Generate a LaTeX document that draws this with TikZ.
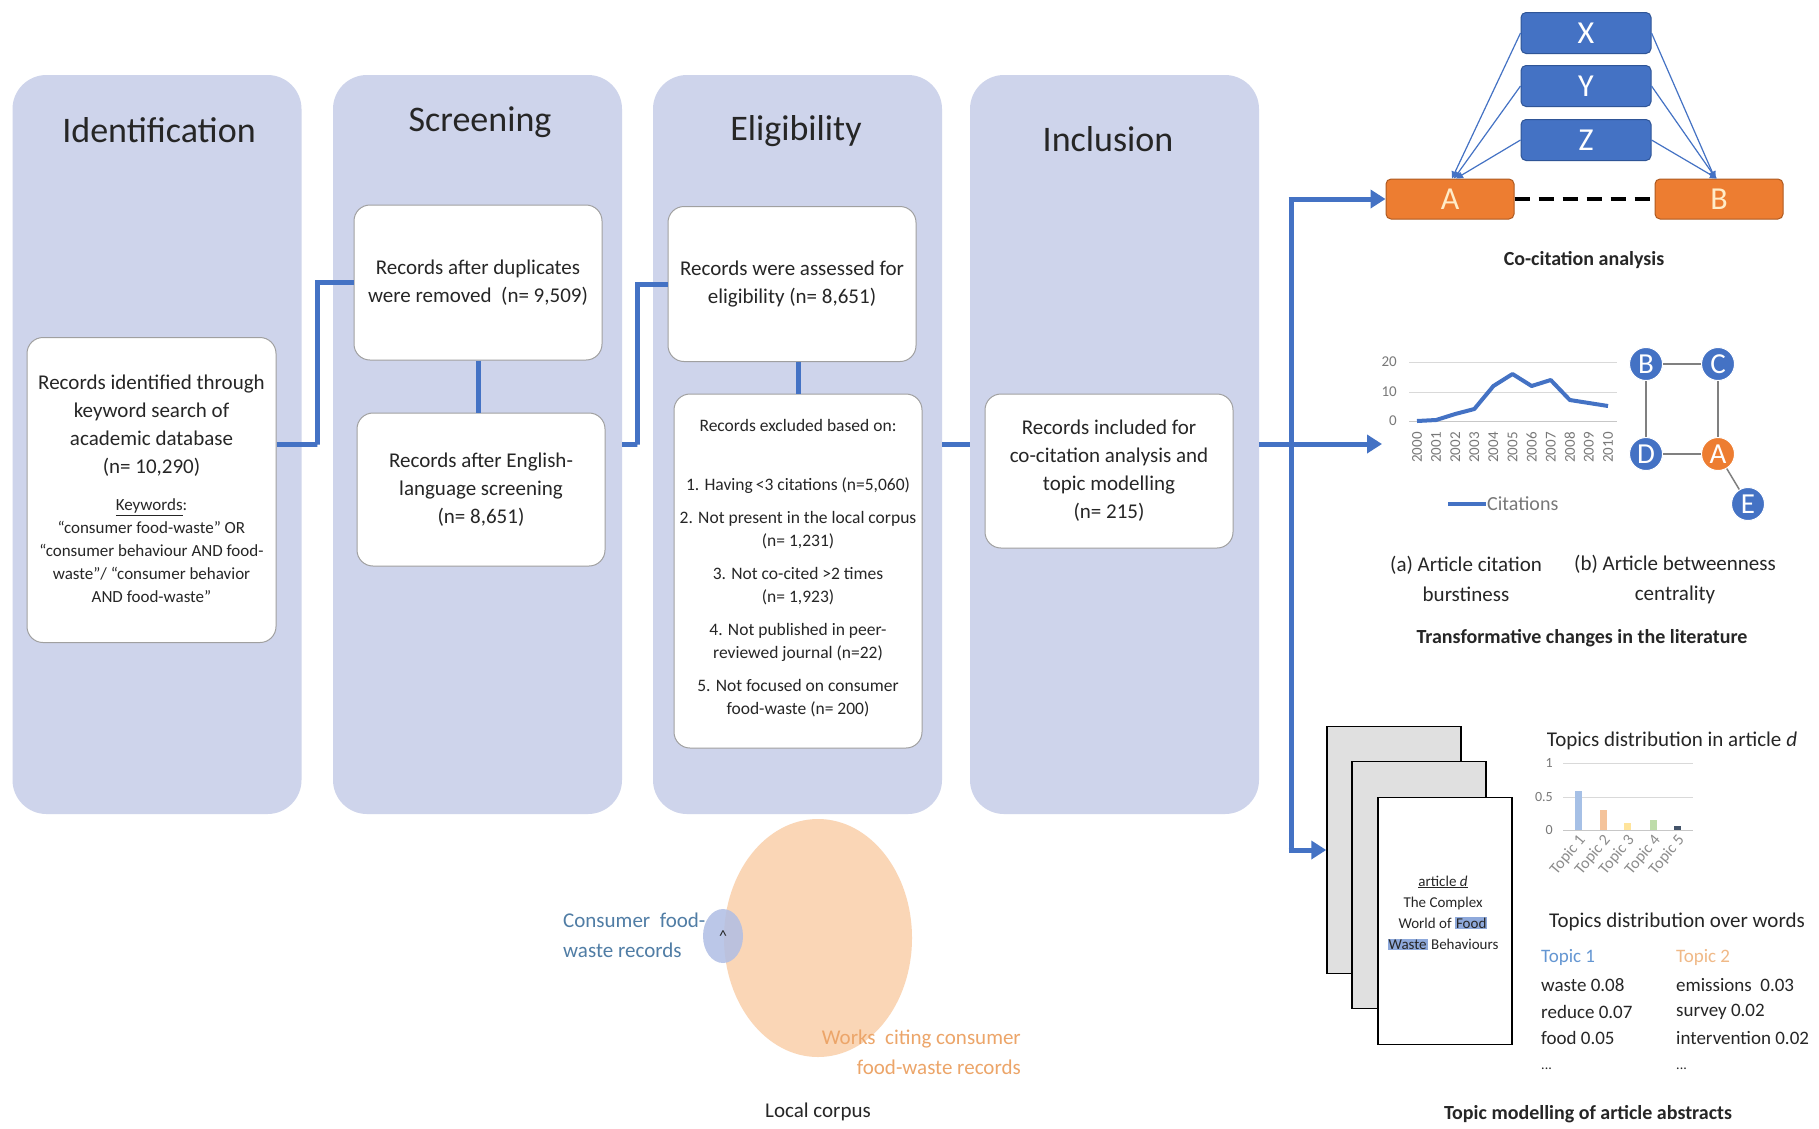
\documentclass[tikz,border=0pt]{standalone}
\usepackage{fontspec}
\setmainfont{Carlito}
\usetikzlibrary{arrows.meta,calc,shapes.geometric}
\definecolor{panelc}{RGB}{206,212,235}
\definecolor{boxb}{RGB}{160,160,160}
\definecolor{bluec}{RGB}{68,114,196}
\definecolor{blued}{RGB}{47,85,151}
\definecolor{orangec}{RGB}{237,125,49}
\definecolor{oranged}{RGB}{174,90,33}
\definecolor{lettc}{RGB}{255,236,200}
\definecolor{txtc}{RGB}{38,38,38}
\definecolor{grayt}{RGB}{120,120,120}
\definecolor{grayl}{RGB}{140,140,140}
\definecolor{gridc}{RGB}{217,217,217}
\definecolor{edgec}{RGB}{128,128,128}
\definecolor{peach}{RGB}{250,214,182}
\definecolor{venblue}{RGB}{176,190,228}
\definecolor{cfwt}{RGB}{80,125,165}
\definecolor{wct}{RGB}{236,165,105}
\definecolor{hil}{RGB}{142,169,219}
\definecolor{paperg}{RGB}{224,224,224}
\definecolor{tonec}{RGB}{100,150,210}
\definecolor{ttwoc}{RGB}{240,185,135}
\definecolor{bara}{RGB}{166,192,230}
\definecolor{barb}{RGB}{244,195,155}
\definecolor{barc}{RGB}{255,228,155}
\definecolor{bard}{RGB}{190,220,170}
\definecolor{bare}{RGB}{68,84,106}
\newcommand\fsz[2]{\fontsize{#1}{#2}\selectfont}
\newcommand\hlt[1]{{\setlength{\fboxsep}{1pt}\colorbox{hil}{#1}}}
\begin{document}
\begin{tikzpicture}[x=1pt,y=-1pt,font=\fsz{21}{28},text=txtc,
  panel/.style={fill=panelc,rounded corners=34pt,minimum width=289pt,minimum height=739pt,inner sep=0pt},
  ttl/.style={font=\fsz{36}{42}},
  wbox/.style={draw=boxb,line width=1pt,fill=white,rounded corners=16pt,inner sep=0pt,align=center,minimum width=248pt},
  conn/.style={draw=bluec,line width=5pt},
  connarr/.style={conn,-{Triangle[length=15pt,width=18pt]}},
  thinarr/.style={draw=bluec,line width=1.2pt,-{Triangle[length=7pt,width=7pt]}},
  bbox/.style={fill=bluec,draw=blued,line width=1pt,rounded corners=5pt,minimum width=130pt,minimum height=41pt,inner sep=0pt,text=white,font=\fsz{32}{32}},
  obox/.style={fill=orangec,draw=oranged,line width=1pt,rounded corners=5pt,minimum width=128pt,minimum height=40pt,inner sep=0pt,text=lettc,font=\fsz{32}{32}},
  gnode/.style={circle,fill=bluec,draw=white,line width=1pt,minimum size=33pt,inner sep=0pt,text=white,font=\fsz{29}{29}},
  yrlab/.style={rotate=90,anchor=east,font=\fsz{15}{15},text=grayt,inner sep=1pt},
  axlab/.style={anchor=east,font=\fsz{15}{15},text=grayt,inner sep=1pt},
  tplab/.style={rotate=50,anchor=east,font=\fsz{16}{16},text=grayl,inner sep=0.5pt},
  paper/.style={draw=black,line width=1.5pt,minimum width=134pt,minimum height=247pt,inner sep=0pt},
  captn/.style={font=\bfseries\fsz{20}{24}},
  wl/.style={anchor=west,font=\fsz{19}{22},inner sep=0pt}
]
\path[use as bounding box,fill=white] (0,0) rectangle (1819,1128);
\coordinate (mainy) at (0,444);

% panels
\node[panel] (p1) at (157,444.5) {};
\node[panel] (p2) at (477.5,444.5) {};
\node[panel] (p3) at (797.5,444.5) {};
\node[panel] (p4) at (1114.5,444.5) {};
\node[ttl] (t1) at (159,130) {Identification};
\node[ttl] (t2) at (480,122) {Screening};
\node[ttl] (t3) at (796,131) {Eligibility};
\node[ttl] (t4) at (1108,139) {Inclusion};

% boxes
\node[wbox,minimum height=305pt,minimum width=249pt] (idbox) at (151.5,490) {};
\node[align=center,inner sep=0pt] (idtxt) at (151.5,426) {Records identified through\\keyword search of\\academic database\\(n= 10,290)};
\node[align=center,inner sep=0pt,font=\fsz{17}{23}] (kwtxt) at (151.5,551) {\underline{Keywords}:\\“consumer food-waste” OR\\“consumer behaviour AND food-\\waste”/ “consumer behavior\\AND food-waste”};

\node[wbox,minimum height=155pt] (s1) at (478,282.5) {Records after duplicates\\were removed\ \ (n= 9,509)};
\node[wbox,minimum height=153pt] (s2) at (481,489.5) {Records after English-\\language screening\\(n= 8,651)};
\node[wbox,minimum height=155pt] (e1) at (792,284) {Records were assessed for\\eligibility (n= 8,651)};
\node[wbox,minimum height=354pt] (e2) at (798,571) {};
\node[align=center,inner sep=0pt,font=\fsz{17.5}{23.5}] (e2txt) at (798,568) {Records excluded based on:\\[36pt]1. Having{\,}<3 citations (n=5,060)\\[9pt]2. Not present in the local corpus\\(n= 1,231)\\[9pt]3. Not co-cited >2 times\\(n= 1,923)\\[9pt]4. Not published in peer-\\reviewed journal (n=22)\\[9pt]5. Not focused on consumer\\food-waste (n= 200)};
\node[wbox,minimum height=154pt] (inc) at (1109,471) {Records included for\\co-citation analysis and\\topic modelling\\(n= 215)};

% flow connectors
\draw[conn] (idbox.east |- mainy) -| ($(p1.east)!0.5!(p2.west)$) |- (s1.west);
\draw[conn] (s1.south) -- (s1.south |- s2.north);
\draw[conn] (p2.east |- mainy) -| ($(p2.east)!0.5!(p3.west)$) |- (e1.west);
\draw[conn] (e2.north |- e1.south) -- (e2.north);
\draw[conn] (p3.east |- mainy) -- (p4.west |- mainy);

% co-citation
\node[bbox] (X) at (1586,33) {X};
\node[bbox] (Y) at (1586,86) {Y};
\node[bbox] (Z) at (1586,140) {Z};
\node[obox] (A) at (1450,199) {A};
\node[obox] (B) at (1719,199) {B};
\draw[thinarr] (X.west) -- ([xshift=2pt]A.north);
\draw[thinarr] (Y.west) -- ([xshift=4pt]A.north);
\draw[thinarr] (Z.west) -- ([xshift=6pt]A.north);
\draw[thinarr] (X.east) -- ([xshift=-4pt]B.north);
\draw[thinarr] (Y.east) -- ([xshift=-3pt]B.north);
\draw[thinarr] (Z.east) -- ([xshift=-2pt]B.north);
\draw[black,line width=4pt,dash pattern=on 15pt off 9pt] (A.east) -- (B.west);
\node[captn] (cocap) at (1584,260) {Co-citation analysis};

% papers
\node[paper,fill=paperg] (pb) at (1394,850) {};
\node[paper,fill=paperg] (pm) at (1419,885) {};
\node[paper,fill=white] (pf) at (1445,921) {};
\node[align=center,inner sep=0pt,font=\fsz{15}{21}] (art) at (1443,913) {\underline{article \textit{d}}\\The Complex\\World of \hlt{Food}\\\hlt{Waste} Behaviours};

% trunk and arrows
\coordinate (chartin) at (1382,444);
\coordinate (trunk) at (1291,0);
\draw[connarr] (p4.east |- mainy) -- (chartin);
\draw[conn] (trunk |- A.west) -- (trunk |- pb.west);
\draw[connarr] ([xshift=-2.5pt]trunk |- A.west) -- (A.west);
\draw[connarr] ([xshift=-2.5pt]trunk |- pb.west) -- (pb.west);

% citation chart
\foreach \yy in {362,392}{\draw[gridc,line width=1pt] (1409,\yy) -- (1617,\yy);}
\draw[gridc!80!gray,line width=1pt] (1409,421) -- (1617,421);
\node[axlab] (l20) at (1398,362) {20};
\node[axlab] (l10) at (1398,392) {10};
\node[axlab] (l0) at (1398,421) {0};
\draw[bluec,line width=4pt,line join=round] plot coordinates {(1417,421) (1436.1,420) (1455.2,414) (1474.3,409) (1493.4,386) (1512.5,374) (1531.6,386) (1550.7,380) (1569.8,400) (1588.9,403) (1608,406)};
\foreach \yr [count=\i from 0] in {2000,2001,2002,2003,2004,2005,2006,2007,2008,2009,2010}{
  \node[yrlab] (yr\i) at ({1417+19.1*\i},431) {\yr};
}
\coordinate (legl) at (1448,504);
\coordinate (legr) at (1486,504);
\draw[bluec,line width=4pt] (legl) -- (legr);
\node[anchor=west,inner sep=1pt,text=grayt,font=\fsz{20}{22}] (legt) at (legr) {Citations};

% betweenness graph
\node[gnode] (gB) at (1646,364) {B};
\node[gnode] (gC) at (1718,364) {C};
\node[gnode] (gD) at (1646,454) {D};
\node[gnode,fill=orangec] (gA) at (1718,454) {A};
\node[gnode] (gE) at (1748,504) {E};
\draw[edgec,line width=1.5pt] (gB) -- (gC);
\draw[edgec,line width=1.5pt] (gB) -- (gD);
\draw[edgec,line width=1.5pt] (gC) -- (gA);
\draw[edgec,line width=1.5pt] (gD) -- (gA);
\draw[edgec,line width=1.5pt] (gA) -- (gE);

\node[align=center,inner sep=0pt,font=\fsz{21}{30}] (capa) at (1466,579) {(a) Article citation\\burstiness};
\node[align=center,inner sep=0pt,font=\fsz{21}{30}] (capb) at (1675,579) {(b) Article betweenness\\centrality};
\node[captn] (trcap) at (1582,638) {Transformative changes in the literature};

% topic distribution chart
\node[font=\fsz{21}{24}] (tdt) at (1672,741) {Topics distribution in article \textit{d}};
\foreach \yy in {763,797}{\draw[gridc,line width=1pt] (1563,\yy) -- (1693,\yy);}
\draw[gridc!80!gray,line width=1pt] (1563,830) -- (1693,830);
\node[axlab,font=\fsz{14}{14}] (b1l) at (1554,763) {1};
\node[axlab,font=\fsz{14}{14}] (b05l) at (1554,797) {0.5};
\node[axlab,font=\fsz{14}{14}] (b0l) at (1554,830) {0};
\fill[bara] (1574.5,830) rectangle (1581.5,791);
\fill[barb] (1599.5,830) rectangle (1606.5,810);
\fill[barc] (1623.5,830) rectangle (1630.5,823);
\fill[bard] (1649.5,830) rectangle (1656.5,820);
\fill[bare] (1673.5,830) rectangle (1680.5,826);
\foreach \k [count=\i from 1] in {1578,1603,1627,1653,1677}{
  \node[tplab] (tp\i) at (\k+5,837) {Topic \i};
}

% topic words
\node[font=\fsz{21}{24}] (tdw) at (1677,922) {Topics distribution over words};
\node[wl,text=tonec] (ta) at (1541,957) {Topic 1};
\node[wl] (ta1) at (1541,985) {waste 0.08};
\node[wl] (ta2) at (1541,1012) {reduce 0.07};
\node[wl] (ta3) at (1541,1038) {food 0.05};
\node[wl,font=\fsz{14}{16}] (ta4) at (1541,1069) {...};
\node[wl,text=ttwoc] (tb) at (1676,957) {Topic 2};
\node[wl] (tb1) at (1676,985) {emissions\ \ 0.03};
\node[wl] (tb2) at (1676,1012) {survey 0.02};
\node[wl] (tb3) at (1676,1038) {intervention 0.02};
\node[wl,font=\fsz{14}{16}] (tb4) at (1676,1069) {...};
\node[captn] (tmcap) at (1588,1114) {Topic modelling of article abstracts};

% venn
\node[ellipse,fill=peach,minimum width=188pt,minimum height=238pt,inner sep=0pt] (big) at (818,938) {};
\node[ellipse,fill=venblue,fill opacity=0.85,text opacity=1,minimum width=40pt,minimum height=54pt,inner sep=0pt,font=\fsz{16}{16}] (small) at (723,936) {\textasciicircum};
\node[align=left,anchor=west,text=cfwt,inner sep=0pt,font=\fsz{21}{30}] (cfw) at (563,935) {Consumer\ \ food-\\waste records};
\node[align=right,anchor=east,text=wct,inner sep=0pt,font=\fsz{21}{30}] (wcc) at (1021,1052) {Works\ \ citing consumer\\food-waste records};
\node[font=\fsz{21}{24}] (lc) at (818,1112) {Local corpus};
\end{tikzpicture}
\end{document}
